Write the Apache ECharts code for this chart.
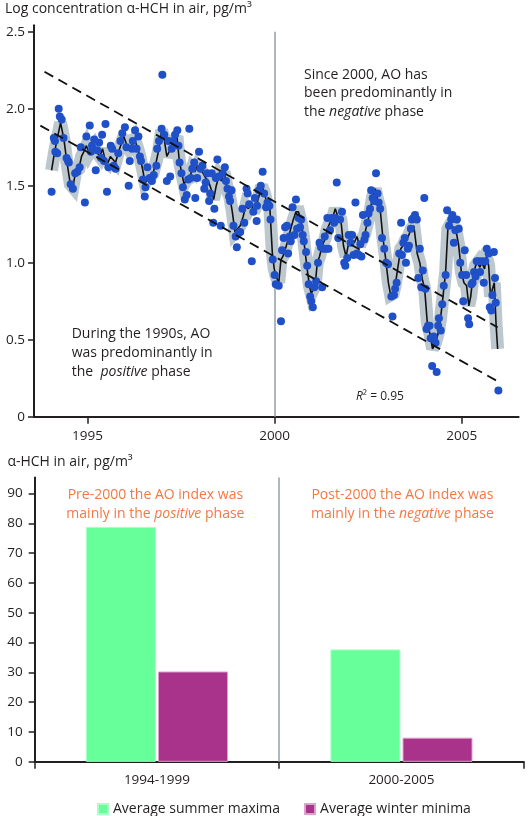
<!DOCTYPE html>
<html><head><meta charset="utf-8">
<script src="https://cdn.jsdelivr.net/npm/echarts@6/dist/echarts.min.js"></script>
<style>html,body{margin:0;padding:0;background:#fff}#c{width:529px;height:816px}</style>
</head><body><div id="c"></div>
<script>
// ---- Top chart: log concentration of alpha-HCH in air ----
const pointYears = [1994.04,1994.10,1994.13,1994.14,1994.19,1994.23,1994.26,1994.31,1994.36,1994.44,1994.48,1994.50,1994.55,1994.61,1994.67,1994.73,1994.79,1994.82,1994.93,1994.97,
1995.06,1995.09,1995.12,1995.18,1995.22,1995.26,1995.31,1995.36,1995.39,1995.44,1995.48,1995.52,1995.56,1995.62,1995.66,1995.70,1995.75,1995.82,1995.88,1995.93,
1996.00,1996.04,1996.10,1996.13,1996.19,1996.21,1996.27,1996.31,1996.36,1996.40,1996.43,1996.48,1996.53,1996.55,1996.60,1996.66,1996.72,1996.77,1996.84,1996.86,1996.91,
1996.98,1997.00,1997.05,1997.12,1997.16,1997.21,1997.25,1997.29,1997.34,1997.40,1997.43,1997.46,1997.51,1997.55,1997.60,1997.65,1997.69,1997.72,1997.76,1997.80,1997.85,1997.88,1997.93,
1997.98,1998.02,1998.07,1998.12,1998.16,1998.20,1998.25,1998.28,1998.32,1998.36,1998.39,1998.43,1998.47,1998.51,1998.56,1998.61,1998.67,1998.70,1998.74,1998.78,1998.81,1998.85,1998.90,
1998.96,1998.99,1999.03,1999.08,1999.14,1999.19,1999.25,1999.28,1999.32,1999.39,1999.43,1999.47,1999.52,1999.53,1999.58,1999.63,1999.68,1999.72,1999.77,1999.81,1999.86,1999.89,1999.95,2000.00,2000.03,
2000.11,2000.17,2000.20,2000.24,2000.28,2000.33,2000.36,2000.40,2000.43,2000.48,2000.53,2000.57,2000.60,2000.64,2000.68,2000.71,2000.75,2000.78,2000.84,2000.87,2000.91,
2000.95,2000.98,2001.02,2001.06,2001.11,2001.16,2001.20,2001.24,2001.27,2001.31,2001.34,2001.38,2001.41,2001.44,2001.48,2001.53,2001.59,2001.62,2001.66,2001.70,2001.75,2001.80,2001.86,2001.89,
2001.94,2001.98,2002.03,2002.07,2002.11,2002.16,2002.20,2002.25,2002.29,2002.32,2002.36,2002.40,2002.43,2002.48,2002.51,2002.55,2002.58,2002.62,2002.66,2002.71,2002.75,2002.78,2002.82,2002.87,
2002.93,2002.98,2003.03,2003.12,2003.15,2003.19,2003.22,2003.26,2003.33,2003.38,2003.40,2003.44,2003.48,2003.51,2003.56,2003.59,2003.64,2003.67,2003.71,2003.75,2003.80,2003.84,2003.88,
2003.92,2003.96,2004.00,2004.03,2004.06,2004.10,2004.14,2004.17,2004.21,2004.25,2004.30,2004.33,2004.37,2004.39,2004.44,2004.48,2004.52,2004.57,2004.61,2004.66,2004.72,2004.75,2004.79,2004.83,2004.87,
2004.92,2004.96,2005.01,2005.04,2005.08,2005.12,2005.17,2005.20,2005.26,2005.29,2005.33,2005.37,2005.40,2005.45,2005.49,2005.54,2005.59,2005.63,2005.67,2005.72,2005.75,2005.79,2005.82,2005.86,2005.89,2005.91,2005.98];
const pointValues = [1.46,1.81,1.79,1.72,1.71,2.00,1.95,1.93,1.81,1.68,1.66,1.65,1.51,1.48,1.58,1.59,1.62,1.75,1.39,1.82,
1.89,1.72,1.76,1.80,1.60,1.73,1.78,1.68,1.83,1.66,1.90,1.46,1.62,1.76,1.74,1.63,1.61,1.71,1.79,1.84,
1.88,1.75,1.50,1.66,1.74,1.79,1.86,1.74,1.82,1.69,1.66,1.54,1.43,1.49,1.62,1.55,1.53,1.57,1.63,1.74,1.79,
1.87,2.22,1.83,1.53,1.79,1.56,1.74,1.79,1.83,1.86,1.76,1.65,1.58,1.49,1.41,1.44,1.54,1.87,1.55,1.61,1.65,1.42,1.55,
1.72,1.61,1.63,1.48,1.52,1.58,1.40,1.45,1.58,1.26,1.35,1.55,1.67,1.56,1.24,1.58,1.62,1.53,1.48,1.43,1.40,1.47,1.24,
1.17,1.10,1.19,1.20,1.35,1.26,1.48,1.45,1.38,1.01,1.33,1.42,1.27,1.37,1.47,1.50,1.59,1.45,1.36,1.39,1.37,1.28,1.02,0.92,0.86,
0.85,0.62,1.08,1.16,1.23,1.24,1.06,1.17,1.14,1.36,1.18,1.41,1.22,1.29,1.23,1.28,1.18,1.14,1.07,0.98,0.86,
0.78,0.75,0.71,0.84,0.88,1.00,1.13,1.10,0.84,1.09,1.17,1.09,1.29,1.09,1.21,1.29,1.26,1.29,1.52,1.16,1.28,1.33,1.00,0.98,
1.03,1.18,1.13,1.18,1.05,1.39,1.06,1.05,1.12,1.04,1.31,1.15,1.18,1.26,1.32,1.35,1.47,1.42,1.40,1.58,1.45,1.39,1.35,1.16,
1.09,1.00,0.99,0.78,0.65,0.79,0.83,0.87,1.06,1.26,1.05,1.13,1.16,1.00,1.09,1.11,1.22,1.28,1.29,1.31,1.28,0.90,1.09,
0.84,0.95,1.42,0.83,0.57,0.59,0.59,0.51,0.33,0.52,0.48,0.29,0.59,0.64,0.56,0.73,0.85,0.92,1.34,1.24,1.28,1.31,1.13,1.21,1.28,
1.22,1.00,0.92,0.75,1.08,0.92,0.64,0.60,0.86,0.87,0.94,0.91,1.01,1.01,0.94,1.01,0.87,1.01,1.09,1.06,0.71,0.69,0.79,1.07,0.90,0.74,0.17];

// smoothed curve (black line, with grey confidence band around it)
const lineYears = [1994.04,1994.12,1994.28,1994.37,1994.44,1994.54,1994.61,1994.68,1994.77,1994.84,1994.90,1994.97,1995.04,1995.11,1995.17,1995.24,1995.33,1995.40,1995.47,1995.55,1995.61,1995.68,1995.75,1995.83,1995.90,1995.97,
1996.04,1996.11,1996.19,1996.26,1996.33,1996.40,1996.47,1996.54,1996.59,1996.66,1996.75,1996.84,1996.91,1996.98,1997.05,1997.12,1997.20,1997.27,1997.34,1997.39,1997.45,1997.51,1997.58,1997.65,1997.73,1997.80,1997.87,1997.94,
1998.01,1998.09,1998.16,1998.23,1998.30,1998.37,1998.44,1998.51,1998.58,1998.65,1998.72,1998.80,1998.87,1998.94,1999.01,1999.08,1999.16,1999.23,1999.30,1999.37,1999.44,1999.51,1999.58,1999.65,1999.72,1999.79,1999.87,1999.94,1999.99,
2000.04,2000.11,2000.17,2000.22,2000.29,2000.36,2000.43,2000.50,2000.57,2000.64,2000.71,2000.77,2000.82,2000.87,2000.93,2000.98,2001.04,2001.09,2001.14,2001.20,2001.27,2001.34,2001.41,2001.48,2001.55,2001.62,2001.69,2001.77,2001.84,2001.91,2001.98,
2002.05,2002.13,2002.20,2002.27,2002.34,2002.41,2002.48,2002.55,2002.62,2002.69,2002.75,2002.82,2002.89,2002.96,2003.04,2003.10,2003.17,2003.22,2003.30,2003.37,2003.43,2003.50,2003.57,2003.65,2003.72,2003.77,2003.81,2003.88,2003.95,
2004.01,2004.08,2004.15,2004.22,2004.30,2004.37,2004.43,2004.50,2004.57,2004.63,2004.70,2004.77,2004.84,2004.92,2004.99,2005.06,2005.13,2005.19,2005.24,2005.29,2005.37,2005.43,2005.48,2005.54,2005.61,2005.66,2005.72,2005.77,2005.82,2005.87,2005.92,2005.96];
const lineValues = [1.60,1.72,1.91,1.80,1.67,1.51,1.49,1.59,1.61,1.69,1.72,1.76,1.71,1.74,1.76,1.72,1.69,1.74,1.67,1.65,1.69,1.67,1.65,1.72,1.77,1.82,
1.77,1.74,1.77,1.80,1.75,1.69,1.61,1.52,1.51,1.55,1.58,1.66,1.74,1.86,1.80,1.69,1.73,1.78,1.80,1.82,1.67,1.59,1.51,1.54,1.55,1.61,1.59,1.63,
1.61,1.58,1.55,1.53,1.48,1.41,1.50,1.56,1.53,1.59,1.50,1.43,1.33,1.20,1.22,1.24,1.30,1.37,1.35,1.39,1.33,1.37,1.43,1.50,1.46,1.39,1.37,1.06,0.96,
0.91,0.87,1.02,1.04,1.09,1.15,1.22,1.28,1.33,1.33,1.26,1.17,1.06,0.96,0.85,0.80,0.83,0.87,1.00,1.04,1.11,1.15,1.22,1.26,1.29,1.35,1.30,1.28,1.11,1.04,1.13,
1.15,1.13,1.17,1.11,1.15,1.19,1.26,1.33,1.43,1.48,1.41,1.35,1.17,1.04,0.87,0.79,0.80,0.85,0.98,1.09,1.11,1.15,1.17,1.22,1.24,1.24,1.06,1.00,0.89,
0.83,0.61,0.54,0.44,0.48,0.54,0.63,0.78,0.94,1.22,1.25,1.23,1.22,1.11,0.94,0.87,0.85,0.72,0.78,0.89,0.98,1.00,0.97,1.00,0.96,1.04,0.98,0.78,0.83,0.87,0.59,0.44];

// parallel dashed trend lines (R² = 0.95)
const trendUpperYears = [1993.85, 2005.96];
const trendUpperValues = [2.24, 0.58];
const trendLowerYears = [1993.74, 2005.96];
const trendLowerValues = [1.89, 0.23];
const splitYear = 2000;
const topYTicks = [0, 0.5, 1, 1.5, 2, 2.5];
const topXTicks = [1995, 2000, 2005];

// ---- Bottom chart: average seasonal extremes ----
const periods = ['1994-1999', '2000-2005'];
const summerMaxima = [78.8, 37.7];
const winterMinima = [30.3, 8.1];
const bottomYTicks = [0, 10, 20, 30, 40, 50, 60, 70, 80, 90];
const periodBoundary = 1;

const FONT = "'Open Sans', 'Noto Sans', sans-serif";
const INK = '#231f20';
const ORANGE = '#f47843';
const zip = (xs, ys) => xs.map((x, i) => [x, ys[i]]);

const chart = echarts.init(document.getElementById('c'), null, {renderer: 'canvas'});
chart.setOption({
  animation: false,
  backgroundColor: '#fff',
  textStyle: {fontFamily: FONT},
  grid: [
    {left: 34, right: 10.4, top: 25.2, bottom: 399.3},
    {left: 34.7, right: 5.3, top: 477.4, bottom: 54.2}
  ],
  xAxis: [
    {type: 'value', gridIndex: 0, min: 1993.57, max: 2006.52,
     axisLine: {show: true, onZero: false, lineStyle: {color: INK, width: 2}},
     axisTick: {show: true, length: 7, customValues: topXTicks, lineStyle: {color: INK, width: 1.5}},
     axisLabel: {customValues: topXTicks, formatter: v => String(Math.round(v)), fontSize: 13.5, color: INK, margin: 12, fontFamily: FONT},
     splitLine: {show: false}},
    {type: 'category', gridIndex: 1, data: periods,
     axisLine: {show: true, lineStyle: {color: INK, width: 2}},
     axisTick: {show: true, length: 7, lineStyle: {color: INK, width: 1.5}},
     axisLabel: {fontSize: 13.5, color: INK, margin: 11, fontFamily: FONT},
     splitLine: {show: false}},
    {type: 'value', gridIndex: 1, min: 0, max: 2, show: false}
  ],
  yAxis: [
    {type: 'value', gridIndex: 0, min: 0, max: 2.542,
     axisLine: {show: true, lineStyle: {color: INK, width: 2}},
     axisTick: {show: true, length: 6, customValues: topYTicks, lineStyle: {color: INK, width: 1.5}},
     axisLabel: {customValues: topYTicks, formatter: v => v === 0 ? '0' : v.toFixed(1), fontSize: 13.5, color: INK, margin: 9, fontFamily: FONT},
     splitLine: {show: false}},
    {type: 'value', gridIndex: 1, min: 0, max: 95.4,
     axisLine: {show: true, lineStyle: {color: INK, width: 2}},
     axisTick: {show: true, length: 6, customValues: bottomYTicks, lineStyle: {color: INK, width: 1.5}},
     axisLabel: {customValues: bottomYTicks, fontSize: 13.5, color: INK, margin: 12, fontFamily: FONT},
     splitLine: {show: false}}
  ],
  legend: {
    data: ['Average summer maxima', 'Average winter minima'],
    left: 92, top: 797, itemWidth: 10, itemHeight: 10, itemGap: 24, icon: 'rect',
    textStyle: {fontSize: 14, color: INK, fontFamily: FONT}
  },
  series: [
    {name: 'band', type: 'line', xAxisIndex: 0, yAxisIndex: 0, data: zip(lineYears, lineValues),
     showSymbol: false, silent: true, z: 2,
     lineStyle: {color: '#bcc8ce', width: 13, join: 'miter', miterLimit: 3, cap: 'butt'},
     markLine: {silent: true, symbol: 'none', label: {show: false}, z: 1,
       lineStyle: {color: '#8fa0ae', width: 1.5, type: 'solid'},
       data: [[{coord: [splitYear, 0]}, {coord: [splitYear, 2.5]}]]}},
    {name: 'smooth', type: 'line', xAxisIndex: 0, yAxisIndex: 0, data: zip(lineYears, lineValues),
     showSymbol: false, silent: true, z: 3, lineStyle: {color: '#111', width: 1.6}},
    {name: 'upper', type: 'line', xAxisIndex: 0, yAxisIndex: 0, data: zip(trendUpperYears, trendUpperValues),
     showSymbol: false, silent: true, z: 5, lineStyle: {color: '#111', width: 1.8, type: [10, 6]}},
    {name: 'lower', type: 'line', xAxisIndex: 0, yAxisIndex: 0, data: zip(trendLowerYears, trendLowerValues),
     showSymbol: false, silent: true, z: 5, lineStyle: {color: '#111', width: 1.8, type: [10, 6]}},
    {name: 'samples', type: 'scatter', xAxisIndex: 0, yAxisIndex: 0, data: zip(pointYears, pointValues),
     symbolSize: 8, z: 4, itemStyle: {color: '#1f50c8', opacity: 1}},
    {name: 'Average summer maxima', type: 'bar', xAxisIndex: 1, yAxisIndex: 1, data: summerMaxima,
     barWidth: 70, barGap: '3%', itemStyle: {color: '#66ff99', borderColor: '#a8ffc4', borderWidth: 1}},
    {name: 'Average winter minima', type: 'bar', xAxisIndex: 1, yAxisIndex: 1, data: winterMinima,
     barWidth: 70, barGap: '3%', itemStyle: {color: '#a9338b', borderColor: '#e0a0cc', borderWidth: 1}},
    {name: 'divider', type: 'line', xAxisIndex: 2, yAxisIndex: 1, data: [], silent: true,
     markLine: {silent: true, symbol: 'none', label: {show: false},
       lineStyle: {color: '#8fa0ae', width: 1.5, type: 'solid'},
       data: [{xAxis: periodBoundary}]}}
  ],
  graphic: [
    {type: 'text', x: 5, y: 9.4, style: {text: 'Log concentration α-HCH in air, pg/m³', fill: INK,
      font: "14px 'Open Sans'", verticalAlign: 'middle'}},
    {type: 'text', x: 7.4, y: 462, style: {text: 'α-HCH in air, pg/m³', fill: INK,
      font: "14px 'Open Sans'", verticalAlign: 'middle'}},
    {type: 'text', x: 304, y: 93.5, style: {text: 'Since 2000, AO has\nbeen predominantly in\nthe {i|negative} phase',
      fill: INK, font: "14px 'Open Sans'", lineHeight: 18.7, verticalAlign: 'middle',
      rich: {i: {fontStyle: 'italic', fontSize: 14, fontFamily: 'Open Sans', fill: INK, lineHeight: 18.7}}}},
    {type: 'text', x: 71.7, y: 352.9, style: {text: 'During the 1990s, AO\nwas predominantly in\nthe  {i|positive} phase',
      fill: INK, font: "14px 'Open Sans'", lineHeight: 18.8, verticalAlign: 'middle',
      rich: {i: {fontStyle: 'italic', fontSize: 14, fontFamily: 'Open Sans', fill: INK, lineHeight: 18.8}}}},
    {type: 'text', x: 356, y: 396.7, style: {text: '{i|R}² = 0.95', fill: INK, font: "12px 'Open Sans'", verticalAlign: 'middle',
      rich: {i: {fontStyle: 'italic', fontSize: 12, fontFamily: 'Open Sans', fill: INK}}}},
    {type: 'text', x: 155.4, y: 504.7, style: {text: 'Pre-2000 the AO index was\nmainly in the {i|positive} phase',
      fill: ORANGE, font: "14px 'Open Sans'", lineHeight: 19.5, align: 'center', verticalAlign: 'middle',
      rich: {i: {fontStyle: 'italic', fontSize: 14, fontFamily: 'Open Sans', fill: ORANGE, lineHeight: 19.5}}}},
    {type: 'text', x: 402.4, y: 504.7, style: {text: 'Post-2000 the AO index was\nmainly in the {i|negative} phase',
      fill: ORANGE, font: "14px 'Open Sans'", lineHeight: 19.5, align: 'center', verticalAlign: 'middle',
      rich: {i: {fontStyle: 'italic', fontSize: 14, fontFamily: 'Open Sans', fill: ORANGE, lineHeight: 19.5}}}}
  ]
});
</script>
</body></html>
